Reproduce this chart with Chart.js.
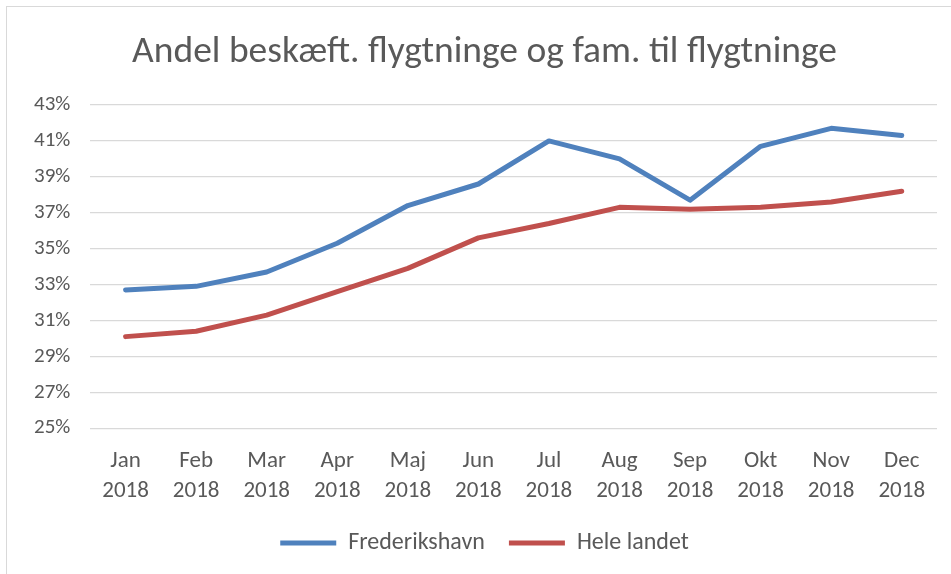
<!DOCTYPE html>
<html>
<head>
    <script src="https://cdn.jsdelivr.net/npm/chart.js@4"></script>
    <style>
        body { margin: 0; background: #fff; }
        #wrap { position: relative; width: 951px; height: 574px; overflow: hidden; }
        #frame { position: absolute; left: 6px; top: 6px; width: 960px; height: 580px; border: 1px solid #d9d9d9; }
        #chart { position: absolute; left: 0; top: 0; }
    </style>
</head>
<body>
 <div id="wrap">
  <div id="frame"></div>
  <canvas id="chart" width="951" height="574"></canvas>
 </div>
  <script>
    const months = ['Jan', 'Feb', 'Mar', 'Apr', 'Maj', 'Jun', 'Jul', 'Aug', 'Sep', 'Okt', 'Nov', 'Dec'];
    const year = '2018';
    const frederikshavn = [32.7, 32.9, 33.7, 35.3, 37.4, 38.6, 41.0, 40.0, 37.7, 40.7, 41.7, 41.3];
    const heleLandet = [30.1, 30.4, 31.3, 32.6, 33.9, 35.6, 36.4, 37.3, 37.2, 37.3, 37.6, 38.2];
    const yMin = 25, yMax = 43, yStep = 2;

    const fontFamily = "Carlito, Lato, 'Open Sans', sans-serif";
    const textColor = '#595959';

    const ctx = document.getElementById('chart');
    const chart = new Chart(ctx, {
        type: 'line',
        data: {
            labels: months.map(m => [m, year]),
            datasets: [{
                label: 'Frederikshavn',
                data: frederikshavn,
                borderColor: '#4f81bd',
                backgroundColor: '#4f81bd',
                borderWidth: 5,
                borderCapStyle: 'round',
                borderJoinStyle: 'round',
                pointRadius: 0,
                tension: 0
            }, {
                label: 'Hele landet',
                data: heleLandet,
                borderColor: '#c0504d',
                backgroundColor: '#c0504d',
                borderWidth: 5,
                borderCapStyle: 'round',
                borderJoinStyle: 'round',
                pointRadius: 0,
                tension: 0
            }]
        },
        options: {
            responsive: false,
            animation: false,
            // extra left padding taken back from the y axis so title/legend centre like Excel
            layout: { padding: { left: 32, right: 14, top: 0, bottom: 9 } },
            plugins: {
                title: {
                    display: true,
                    text: 'Andel beskæft. flygtninge og fam. til flygtninge',
                    color: textColor,
                    font: { family: fontFamily, size: 37.5, weight: 'normal' },
                    padding: { top: 30, bottom: 30 }
                },
                legend: {
                    position: 'bottom',
                    labels: {
                        usePointStyle: true,
                        pointStyle: 'line',
                        pointStyleWidth: 56,
                        color: textColor,
                        font: { family: fontFamily, size: 24 },
                        padding: 24
                    }
                },
                tooltip: { enabled: false }
            },
            scales: {
                x: {
                    offset: true,
                    grid: { display: false, drawTicks: false },
                    border: { display: false },
                    afterFit: scale => { scale.height -= 17; },
                    ticks: {
                        color: textColor,
                        font: { family: fontFamily, size: 23, lineHeight: 1.3 },
                        padding: 18,
                        maxRotation: 0,
                        autoSkip: false
                    }
                },
                y: {
                    min: yMin,
                    max: yMax,
                    grid: { color: '#d9d9d9', lineWidth: 1.3, drawTicks: false },
                    border: { display: false },
                    afterFit: scale => { scale.width -= 18; },
                    ticks: {
                        stepSize: yStep,
                        color: textColor,
                        font: { family: fontFamily, size: 21 },
                        padding: 20,
                        callback: v => v + '%'
                    }
                }
            }
        }
    });
  </script>
</body>
</html>
